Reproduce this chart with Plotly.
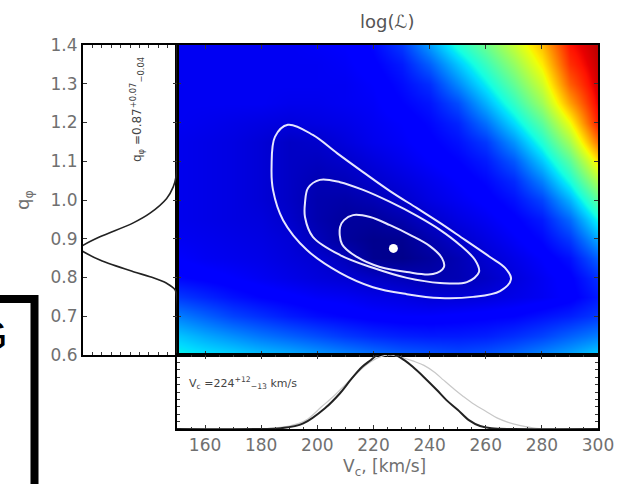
import plotly.graph_objects as go

# ---------------- data ----------------
# heat-map grid (log-likelihood, expressed as colour fraction 0..1)
v_grid = [150, 160, 170, 180, 190, 200, 210, 220, 230, 240, 250, 260, 270, 280, 290, 300]
q_grid = [1.40, 1.35, 1.30, 1.25, 1.20, 1.15, 1.10, 1.05, 1.00, 0.95, 0.90, 0.85, 0.80, 0.75, 0.70, 0.65, 0.60]
loglike = [
    [0.10, 0.10, 0.10, 0.10, 0.10, 0.105, 0.11, 0.13, 0.18, 0.28, 0.39, 0.48, 0.59, 0.71, 0.89, 0.95],
    [0.10, 0.10, 0.10, 0.10, 0.10, 0.10, 0.105, 0.12, 0.15, 0.22, 0.32, 0.42, 0.53, 0.66, 0.86, 0.94],
    [0.10, 0.10, 0.10, 0.10, 0.10, 0.10, 0.10, 0.11, 0.135, 0.17, 0.26, 0.36, 0.47, 0.60, 0.81, 0.93],
    [0.10, 0.10, 0.10, 0.10, 0.095, 0.095, 0.10, 0.105, 0.125, 0.145, 0.20, 0.30, 0.41, 0.54, 0.74, 0.91],
    [0.10, 0.095, 0.09, 0.085, 0.08, 0.085, 0.09, 0.10, 0.11, 0.13, 0.16, 0.235, 0.34, 0.46, 0.64, 0.88],
    [0.095, 0.09, 0.085, 0.075, 0.06, 0.065, 0.08, 0.095, 0.105, 0.12, 0.14, 0.18, 0.27, 0.39, 0.55, 0.79],
    [0.095, 0.09, 0.085, 0.075, 0.06, 0.055, 0.065, 0.08, 0.095, 0.11, 0.125, 0.15, 0.21, 0.32, 0.46, 0.67],
    [0.095, 0.09, 0.085, 0.075, 0.06, 0.045, 0.05, 0.065, 0.08, 0.095, 0.11, 0.13, 0.165, 0.25, 0.38, 0.56],
    [0.095, 0.09, 0.085, 0.075, 0.06, 0.04, 0.035, 0.045, 0.065, 0.085, 0.10, 0.115, 0.14, 0.19, 0.30, 0.46],
    [0.095, 0.09, 0.085, 0.08, 0.065, 0.04, 0.025, 0.025, 0.04, 0.065, 0.085, 0.10, 0.12, 0.15, 0.23, 0.37],
    [0.10, 0.095, 0.09, 0.085, 0.075, 0.05, 0.025, 0.012, 0.015, 0.04, 0.065, 0.085, 0.105, 0.13, 0.18, 0.29],
    [0.11, 0.10, 0.095, 0.09, 0.08, 0.07, 0.05, 0.015, 0.01, 0.025, 0.045, 0.07, 0.09, 0.11, 0.14, 0.22],
    [0.13, 0.12, 0.11, 0.10, 0.09, 0.08, 0.072, 0.06, 0.05, 0.04, 0.045, 0.06, 0.08, 0.10, 0.12, 0.17],
    [0.18, 0.16, 0.14, 0.125, 0.115, 0.105, 0.10, 0.09, 0.085, 0.075, 0.075, 0.08, 0.09, 0.10, 0.115, 0.15],
    [0.25, 0.22, 0.19, 0.17, 0.15, 0.135, 0.125, 0.115, 0.11, 0.11, 0.115, 0.12, 0.125, 0.14, 0.155, 0.18],
    [0.32, 0.29, 0.265, 0.24, 0.22, 0.20, 0.18, 0.165, 0.155, 0.15, 0.15, 0.155, 0.17, 0.19, 0.22, 0.25],
    [0.37, 0.35, 0.335, 0.315, 0.30, 0.28, 0.26, 0.24, 0.22, 0.21, 0.20, 0.21, 0.23, 0.26, 0.29, 0.33],
]

# confidence contours (V_c, q_phi)
outer_v = [183.7, 184.9, 189.5, 198.4, 207.0, 216.3, 225.9, 235.5, 243.7, 252.6, 261.5, 266.9, 269.0,
           265.1, 255.5, 243.7, 231.9, 219.8, 208.1, 196.3, 187.8, 184.2]
outer_q = [1.086, 1.163, 1.194, 1.168, 1.121, 1.072, 1.023, 0.979, 0.941, 0.897, 0.853, 0.825, 0.796,
           0.765, 0.750, 0.747, 0.757, 0.775, 0.812, 0.871, 0.948, 1.026]
middle_v = [195.6, 196.7, 200.9, 208.1, 216.3, 225.9, 235.5, 243.7, 250.8, 256.2, 257.6,
            253.3, 243.7, 231.9, 219.8, 208.1, 198.4, 195.6]
middle_q = [0.992, 1.031, 1.052, 1.046, 1.026, 0.995, 0.959, 0.923, 0.884, 0.845, 0.814,
            0.788, 0.786, 0.799, 0.825, 0.858, 0.905, 0.956]
inner_v = [208.1, 209.5, 212.7, 218.8, 225.9, 233.0, 240.1, 244.4, 245.1,
           241.2, 231.9, 222.3, 214.1, 208.8]
inner_q = [0.930, 0.948, 0.961, 0.956, 0.935, 0.910, 0.881, 0.850, 0.827,
           0.809, 0.814, 0.827, 0.853, 0.886]
best_v = [227.1]
best_q = [0.875]

# marginal of q_phi (left panel)
qm_q = [0.60, 0.74, 0.768, 0.785, 0.802, 0.815, 0.845, 0.867, 0.875, 0.883, 0.905, 0.941, 0.966, 1.004, 1.034, 1.06, 1.10, 1.40]
qm_p = [0.0, 0.0, 0.02, 0.11, 0.287, 0.465, 0.82, 1.0, 1.05, 1.0, 0.82, 0.465, 0.287, 0.11, 0.04, 0.01, 0.0, 0.0]

# marginal of V_c (bottom panel): dark = posterior, grey = second curve
vm_v = [150, 180, 187, 195, 203, 208, 212, 216, 219, 221, 224.5, 228, 231, 234, 238, 242.5, 246, 250, 254, 258, 262, 270, 300]
vm_p = [0.0, 0.0, 0.01, 0.077, 0.29, 0.48, 0.67, 0.84, 0.93, 0.99, 1.04, 1.0, 0.93, 0.84, 0.70, 0.53, 0.39, 0.26, 0.12, 0.04, 0.01, 0.0, 0.0]
vg_v = [150, 176, 183, 190, 196, 201.5, 206, 210, 214, 218, 222, 226, 230, 234, 238, 242, 245, 249, 252, 256, 260, 264, 268, 272, 278, 285, 300]
vg_p = [0.0, 0.0, 0.01, 0.04, 0.12, 0.30, 0.45, 0.60, 0.75, 0.88, 0.97, 1.0, 0.97, 0.92, 0.86, 0.76, 0.66, 0.53, 0.44, 0.33, 0.24, 0.15, 0.09, 0.05, 0.01, 0.0, 0.0]

x_ticks = [160, 180, 200, 220, 240, 260, 280, 300]
y_ticks = [0.6, 0.7, 0.8, 0.9, 1.0, 1.1, 1.2, 1.3, 1.4]

# ---------------- styling ----------------
W, H = 623, 484
FONT = "DejaVu Sans"
GREY = "#707070"
jet = [[0, "rgb(0,0,128)"], [0.11, "rgb(0,0,255)"], [0.125, "rgb(0,0,255)"],
       [0.34, "rgb(0,219,255)"], [0.35, "rgb(0,229,247)"], [0.375, "rgb(20,255,226)"],
       [0.64, "rgb(239,255,8)"], [0.65, "rgb(247,245,0)"], [0.66, "rgb(255,236,0)"],
       [0.89, "rgb(255,18,0)"], [0.91, "rgb(232,0,0)"], [1, "rgb(128,0,0)"]]

def px(x):
    return x / W

def py(y):
    return 1 - y / H

main_x = [px(177), px(598)]
main_y = [py(355), py(45)]
left_x = [px(83), px(177)]
bot_y = [py(429), py(355)]

fig = go.Figure()
fig.add_trace(go.Heatmap(x=v_grid, y=q_grid[::-1], z=loglike[::-1], colorscale=jet,
                         zmin=0, zmax=1, zsmooth="best", showscale=False,
                         xaxis="x", yaxis="y", hoverinfo="skip"))
for cv, cq in [(outer_v, outer_q), (middle_v, middle_q), (inner_v, inner_q)]:
    fig.add_trace(go.Scatter(x=cv + cv[:1], y=cq + cq[:1], mode="lines",
                             line=dict(color="rgb(230,230,255)", width=2, shape="spline", smoothing=1.0),
                             xaxis="x", yaxis="y", showlegend=False, hoverinfo="skip"))
fig.add_trace(go.Scatter(x=best_v, y=best_q, mode="markers",
                         marker=dict(color="white", size=9), xaxis="x", yaxis="y", showlegend=False))

fig.add_trace(go.Scatter(x=qm_p, y=qm_q, mode="lines", line=dict(color="#222", width=1.6, shape="spline"),
                         xaxis="x2", yaxis="y2", showlegend=False))
fig.add_trace(go.Scatter(x=vg_v, y=vg_p, mode="lines", line=dict(color="#c8c8c8", width=1.2, shape="spline"),
                         xaxis="x3", yaxis="y3", showlegend=False))
fig.add_trace(go.Scatter(x=vm_v, y=vm_p, mode="lines", line=dict(color="#222", width=2, shape="spline"),
                         xaxis="x3", yaxis="y3", showlegend=False))

axcommon = dict(showline=True, linecolor="black", linewidth=2, mirror="ticks", ticks="inside",
                showgrid=False, zeroline=False, automargin=False,
                tickfont=dict(family=FONT, size=17, color=GREY), tickcolor="#333", ticklen=4)

def ax(**over):
    d = dict(axcommon)
    d.update(over)
    return d

fig.update_layout(
    width=W, height=H, margin=dict(l=0, r=0, t=0, b=0),
    paper_bgcolor="white", plot_bgcolor="white", showlegend=False,
    xaxis=ax(domain=main_x, range=[150, 300], anchor="y", showticklabels=False,
             tickvals=x_ticks, linewidth=1.5),
    yaxis=ax(domain=main_y, range=[0.6, 1.4], anchor="x", showticklabels=False,
             tickvals=y_ticks, linewidth=1.5),
    xaxis2=ax(domain=left_x, range=[1.0, 0.0], anchor="y2", showticklabels=False,
              dtick=0.1, ticklen=3),
    yaxis2=ax(domain=main_y, range=[0.6, 1.4], anchor="x2", tickvals=y_ticks,
              ticktext=[f"{t:.1f}" for t in y_ticks]),
    xaxis3=ax(domain=main_x, range=[150, 300], anchor="y3", tickvals=x_ticks,
              minor=dict(dtick=5, ticks="inside", ticklen=2, tickcolor="#333")),
    yaxis3=ax(domain=bot_y, range=[0, 1.0], anchor="x3", showticklabels=False,
              dtick=0.1, ticklen=3),
)

ann = [
    dict(text="log(ℒ)", x=px(387), y=py(22), font=dict(family=FONT, size=18, color="#555")),
    dict(text="q<sub>φ</sub>", x=px(24), y=py(200), textangle=-90, font=dict(family=FONT, size=18, color=GREY)),
    dict(text="V<sub>c</sub>, [km/s]", x=px(384), y=py(467), font=dict(family=FONT, size=17, color=GREY)),
    dict(text="q<sub>φ</sub> =0.87<sup>+0.07</sup><sub>−0.04</sub>", x=px(137), y=py(110), textangle=-90,
         font=dict(family=FONT, size=12, color="#444")),
    dict(text="V<sub>c</sub> =224<sup>+12</sup><sub>−13</sub> km/s", x=px(187), y=py(383), xanchor="left",
         font=dict(family=FONT, size=11, color="#444")),
    dict(text="G", x=px(10), y=py(335), xanchor="right", font=dict(family="Liberation Sans", size=42, color="black")),
]
for a in ann:
    a.setdefault("xanchor", "center")
    fig.add_annotation(xref="paper", yref="paper", showarrow=False, yanchor="middle", **a)

fig.add_shape(type="rect", xref="paper", yref="paper", x0=px(-40), x1=px(34.5), y0=py(560), y1=py(299),
              line=dict(color="black", width=8), fillcolor="rgba(0,0,0,0)")

fig.write_html("out.html")
